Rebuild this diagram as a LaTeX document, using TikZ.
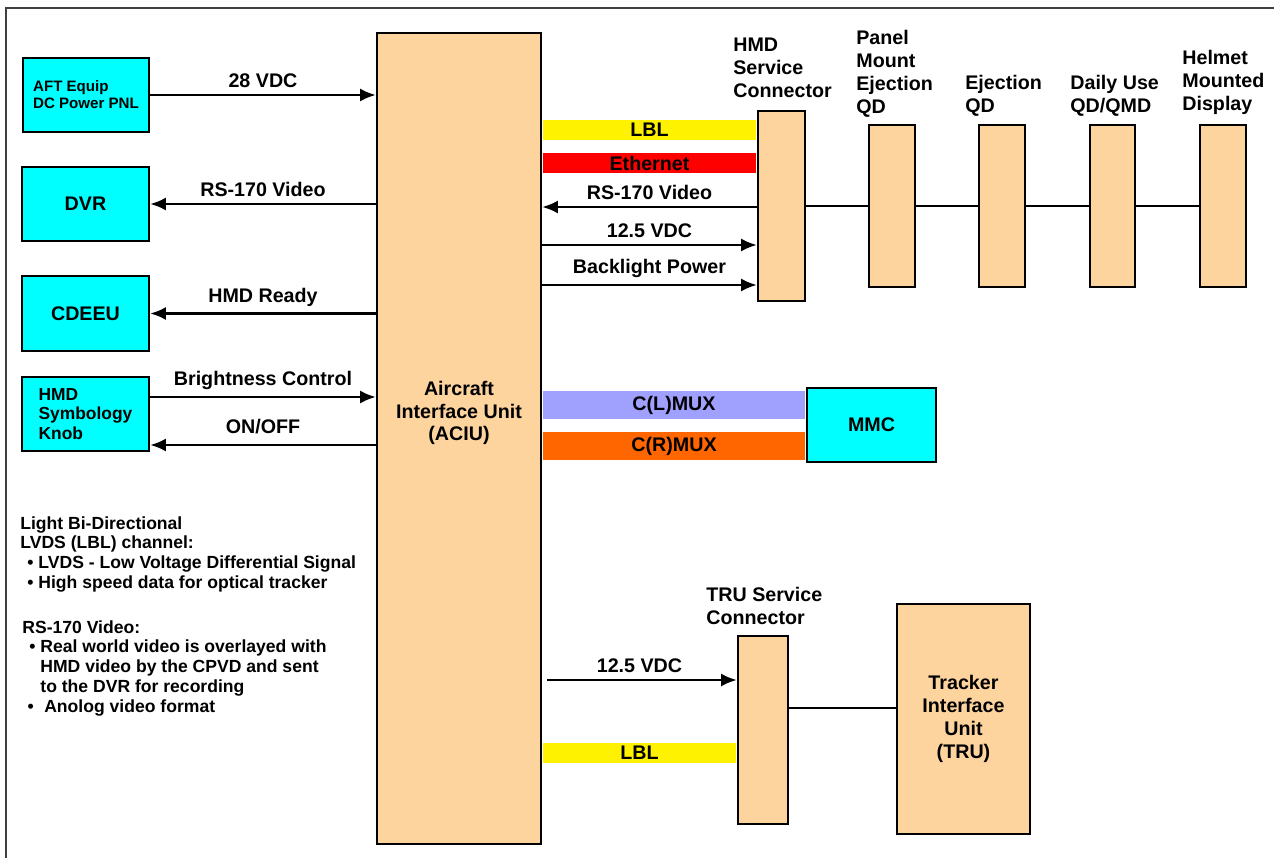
\documentclass[tikz,border=0pt]{standalone}
\usepackage{fontspec}
\setmainfont{Liberation Sans}
\usepackage{tikz}
\usetikzlibrary{arrows.meta,positioning,calc}
\definecolor{unitpeach}{HTML}{FDD49E}
\definecolor{boxcyan}{HTML}{00FFFF}
\definecolor{muxlav}{HTML}{A0A0FF}
\definecolor{muxorange}{HTML}{FF6600}
\newcommand{\lblfont}{\fontsize{11.2}{13}\selectfont\bfseries}
\newcommand{\aftfont}{\fontsize{8.6}{9.6}\selectfont\bfseries}
\newcommand{\knobfont}{\fontsize{9.9}{11.3}\selectfont\bfseries}
\newcommand{\notefont}{\fontsize{10}{11.3}\selectfont\bfseries}
\tikzset{
  unit/.style={draw,line width=1.3pt,fill=unitpeach,inner sep=0pt,align=center},
  ext/.style={unit,fill=boxcyan},
  sz/.style 2 args={minimum width=#1*0.02cm,minimum height=#2*0.02cm},
  sig/.style={line width=1.5pt},
  chain/.style={line width=1.2pt},
  band/.style 2 args={line width=#1,draw=#2,shorten <=0.65pt,shorten >=0.65pt},
  hdr/.style={anchor=north west,inner sep=0pt,align=left},
  note/.style={anchor=north west,inner sep=0pt,align=left,font=\notefont},
}

\begin{document}
\begin{tikzpicture}[x=0.02cm,y=-0.02cm,font=\lblfont,>={Latex[length=9pt,width=7.5pt]}]
\useasboundingbox (0,0) rectangle (1274,858);
\draw[line width=0.8pt,black!75] (1274,8) -- (6,8) -- (6,858);

\node[unit,sz={164}{811}] (aciu) at (459,438.5) {};
\node[align=center] (aciutxt) at (459,413) {Aircraft\\Interface Unit\\(ACIU)};

\node[ext,sz={126}{74},align=left,font=\aftfont] (aft) at (86,95) {AFT Equip\\DC Power PNL};
\node[ext,sz={127}{74}] (dvr) at (85.5,204) {DVR};
\node[ext,sz={127}{75}] (cdeeu) at (85.5,313.5) {CDEEU};
\node[ext,sz={127}{74},align=left,font=\knobfont] (knob) at (85.5,414) {HMD\\Symbology\\Knob};

\draw[sig,->] (aft) -- (aft -| aciu.west) node[midway,above]{28 VDC};
\draw[sig,->] (dvr -| aciu.west) -- (dvr) node[midway,above]{RS-170 Video};
\draw[sig,->] (cdeeu -| aciu.west) -- (cdeeu) node[midway,above]{HMD Ready};
\draw[sig,->] (knob.east |- 0,397) -- (aciu.west |- 0,397) node[midway,above]{Brightness Control};
\draw[sig,->] (aciu.west |- 0,445) -- (knob.east |- 0,445) node[midway,above,yshift=2pt]{ON/OFF};

\node[note] (lblnote) at (20,516) {Light Bi-Directional\\LVDS (LBL) channel:\\
  \hspace*{4pt}\textbullet\ LVDS - Low Voltage Differential Signal\\
  \hspace*{4pt}\textbullet\ High speed data for optical tracker};
\node[note] (rsnote) at (22,620) {RS-170 Video:\\
  \hspace*{4pt}\textbullet\ Real world video is overlayed with\\
  \hspace*{4pt}\phantom{\textbullet\ }HMD video by the CPVD and sent\\
  \hspace*{4pt}\phantom{\textbullet\ }to the DVR for recording\\
  \hspace*{3pt}\textbullet\hspace{6pt}Anolog video format};

\node[unit,sz={47}{190}] (hmdsc) at (781.5,206) {};
\node[unit,sz={46}{162}] (pmqd) at (892,206) {};
\node[unit,sz={46}{162}] (ejqd) at (1002,206) {};
\node[unit,sz={45}{162}] (duqd) at (1112.5,206) {};
\node[unit,sz={46}{162}] (hmd) at (1223,206) {};
\draw[chain] (hmdsc) -- (pmqd) -- (ejqd) -- (duqd) -- (hmd);

\node[hdr] (hmdsctxt) at (733,38) {HMD\\Service\\Connector};
\node[hdr] (pmqdtxt) at (856,30) {Panel\\Mount\\Ejection\\QD};
\node[hdr] (ejqdtxt) at (965,75) {Ejection\\QD};
\node[hdr] (duqdtxt) at (1070,75) {Daily Use\\QD/QMD};
\node[hdr] (hmdtxt) at (1182,50) {Helmet\\Mounted\\Display};

\draw[band={11.3pt}{yellow}] (aciu.east |- 0,130) -- (hmdsc.west |- 0,130) node[midway]{LBL};
\draw[band={11.3pt}{red}] (aciu.east |- 0,163) -- (hmdsc.west |- 0,163) node[midway]{Ethernet};
\draw[sig,->] (hmdsc.west |- 0,207) -- (aciu.east |- 0,207) node[midway,above]{RS-170 Video};
\draw[sig,->] (aciu.east |- 0,245) -- (hmdsc.west |- 0,245) node[midway,above]{12.5 VDC};
\draw[sig,->] (aciu.east |- 0,285) -- (hmdsc.west |- 0,285) node[midway,above]{Backlight Power};

\node[ext,sz={129}{74}] (mmc) at (871.5,425) {MMC};
\draw[band={16.4pt}{muxlav}] (aciu.east |- 0,405) -- (mmc.west |- 0,405) node[midway]{C(L)MUX};
\draw[band={16.4pt}{muxorange}] (aciu.east |- 0,446) -- (mmc.west |- 0,446) node[midway]{C(R)MUX};

\node[unit,sz={50}{188}] (trusc) at (763,730) {};
\node[hdr] (trusctxt) at (706,587) {TRU Service\\Connector};
\node[unit,sz={133}{230}] (tru) at (963.5,719) {Tracker\\Interface\\Unit\\(TRU)};
\draw[sig,->,shorten <=3pt] (aciu.east |- 0,680) -- (trusc.west |- 0,680) node[midway,above]{12.5 VDC};
\draw[band={11.3pt}{yellow}] (aciu.east |- 0,753) -- (trusc.west |- 0,753) node[midway]{LBL};
\draw[chain] (trusc.east |- 0,708) -- (tru.west |- 0,708);
\end{tikzpicture}
\end{document}
